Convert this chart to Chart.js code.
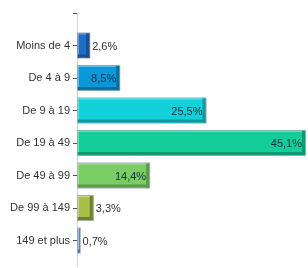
<!DOCTYPE html>
<html>
<head>
<meta charset="utf-8">
<script src="https://cdn.jsdelivr.net/npm/chart.js@4"></script>
<style>
  html, body { margin: 0; padding: 0; background: #fff; }
  #wrap { width: 308px; height: 268px; }
</style>
</head>
<body>
<div id="wrap"><canvas id="chart" width="308" height="268"></canvas></div>
<script>
// categories and values (percent)
const categories = ["Moins de 4", "De 4 à 9", "De 9 à 19", "De 19 à 49", "De 49 à 99", "De 99 à 149", "149 et plus"];
const values = [2.6, 8.5, 25.5, 45.1, 14.4, 3.3, 0.7];
const fillColors = ["#1e6ec8", "#0a98d8", "#12d0d8", "#14ce9a", "#7acc64", "#a8c04a", "#6a96d0"];
const edgeColors = ["#1a4e8c", "#0b6f9d", "#12979c", "#109a70", "#5a9a48", "#6e8030", "#4a70a0"];

const fmt = v => v.toFixed(1).replace(".", ",") + "%";

// darker bottom/right edge to give the bars their bevel look
const bevel = {
    id: "bevel",
    afterDatasetsDraw(chart) {
        const ctx = chart.ctx;
        chart.getDatasetMeta(0).data.forEach((bar, i) => {
            const left = Math.min(bar.base, bar.x) + 1;
            const right = Math.max(bar.base, bar.x) - 1;
            const top = bar.y - bar.height / 2 + 1;
            const bottom = bar.y + bar.height / 2 - 1;
            const w = Math.min(3, (right - left) / 3);
            ctx.save();
            ctx.fillStyle = edgeColors[i];
            ctx.fillRect(left, bottom - 3, right - left, 3);
            ctx.fillRect(right - w, top, w, bottom - top);
            ctx.fillStyle = "rgba(255,255,255,0.35)";
            ctx.fillRect(left, top, right - left - w, 1);
            ctx.fillRect(left, top, 1, bottom - top - 3);
            ctx.restore();
        });
    }
};

// value labels, inside the bar end when they fit, else right of it
const valueLabels = {
    id: "valueLabels",
    afterDatasetsDraw(chart) {
        const ctx = chart.ctx;
        ctx.save();
        ctx.font = "11px 'Liberation Sans', Arial, sans-serif";
        ctx.textBaseline = "middle";
        chart.getDatasetMeta(0).data.forEach((bar, i) => {
            const txt = fmt(values[i]);
            const tw = ctx.measureText(txt).width;
            const len = bar.x - bar.base;
            if (len > tw + 8) {
                ctx.fillStyle = "#123040";
                ctx.textAlign = "right";
                ctx.fillText(txt, bar.x - 4, bar.y + 1);
            } else {
                ctx.fillStyle = "#333";
                ctx.textAlign = "left";
                ctx.fillText(txt, bar.x + 2, bar.y + 1);
            }
        });
        ctx.restore();
    }
};

new Chart(document.getElementById("chart").getContext("2d"), {
    type: "bar",
    data: {
        datasets: [{
            data: values.map((v, i) => ({ x: v, y: i + 1 })),
            backgroundColor: fillColors,
            borderColor: "#a4b0c4",
            borderWidth: 1,
            borderSkipped: false,
            barThickness: 26
        }]
    },
    options: {
        indexAxis: "y",
        responsive: false,
        animation: false,
        layout: { padding: { top: 13, bottom: 1.5, right: 1, left: 0 } },
        plugins: { legend: { display: false }, tooltip: { enabled: false } },
        scales: {
            x: { type: "linear", display: false, min: 0, max: 45.3 },
            y: {
                type: "linear",
                reverse: true,
                offset: false,
                min: 0,
                max: 7.8,
                afterBuildTicks(scale) {
                    // one tick on top (blank) plus one per category
                    scale.ticks = scale.ticks.filter(t => Number.isInteger(t.value) && t.value <= categories.length);
                },
                afterFit(scale) {
                    scale.width = 77;
                    scale.paddingTop = 0;
                    scale.paddingBottom = 0;
                },
                ticks: {
                    stepSize: 1,
                    includeBounds: false,
                    padding: 3,
                    color: "#333",
                    font: { family: "'Liberation Sans', Arial, sans-serif", size: 11 },
                    callback: v => (v >= 1 && v <= categories.length ? categories[v - 1] : "")
                },
                grid: { drawOnChartArea: false, offset: false, tickLength: 4, color: "#555" },
                border: { color: "#d4d4d4" }
            }
        }
    },
    plugins: [bevel, valueLabels]
});
</script>
</body>
</html>
